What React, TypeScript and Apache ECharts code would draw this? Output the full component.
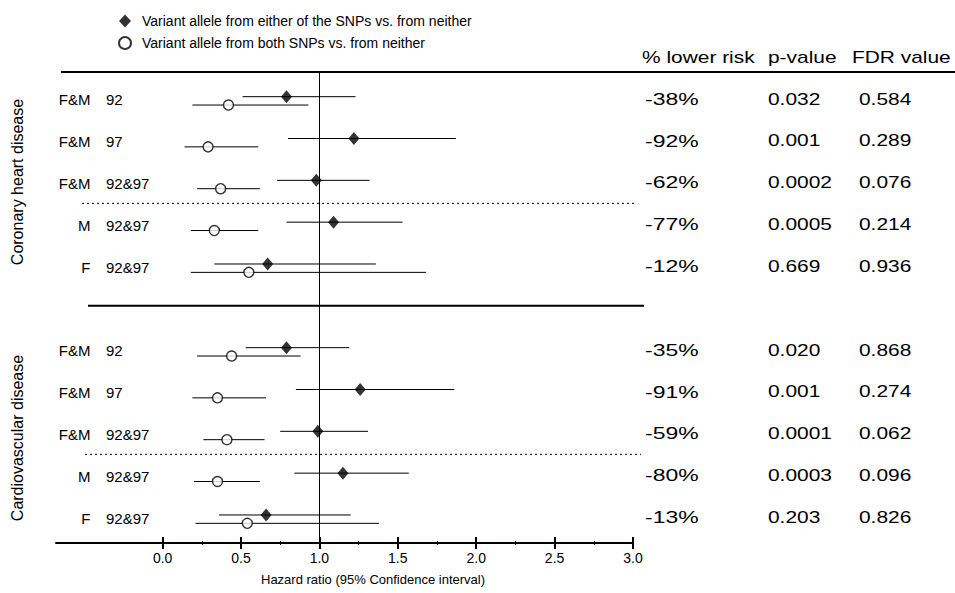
import React, { useEffect, useRef } from "react";
import * as echarts from "echarts";

const FONT = "'Liberation Sans', Arial, Helvetica, sans-serif";

// ---- labels ----
const legendNames = [
  "Variant allele from either of the SNPs vs. from neither",
  "Variant allele from both SNPs vs. from neither",
];
const groupTitles = ["Coronary heart disease", "Cardiovascular disease"];
const sexLabels = ["F&M", "F&M", "F&M", "M", "F"];
const snpLabels = ["92", "97", "92&97", "92&97", "92&97"];
const tableHeaders = ["% lower risk", "p-value", "FDR value"];
const axisTitle = "Hazard ratio (95% Confidence interval)";
const tickValues = [0, 0.5, 1, 1.5, 2, 2.5, 3];
const minorTickValues = [0.25, 0.75, 1.25, 1.75, 2.25, 2.75];

// ---- Coronary heart disease ----
const chdEitherHR = [0.79, 1.22, 0.98, 1.09, 0.67];
const chdEitherLow = [0.51, 0.8, 0.73, 0.79, 0.33];
const chdEitherHigh = [1.23, 1.87, 1.32, 1.53, 1.36];
const chdBothHR = [0.42, 0.29, 0.37, 0.33, 0.55];
const chdBothLow = [0.19, 0.14, 0.22, 0.18, 0.18];
const chdBothHigh = [0.93, 0.61, 0.62, 0.61, 1.68];
const chdLowerRisk = ["-38%", "-92%", "-62%", "-77%", "-12%"];
const chdPValue = ["0.032", "0.001", "0.0002", "0.0005", "0.669"];
const chdFdr = ["0.584", "0.289", "0.076", "0.214", "0.936"];

// ---- Cardiovascular disease ----
const cvdEitherHR = [0.79, 1.26, 0.99, 1.15, 0.66];
const cvdEitherLow = [0.53, 0.85, 0.75, 0.84, 0.36];
const cvdEitherHigh = [1.19, 1.86, 1.31, 1.57, 1.2];
const cvdBothHR = [0.44, 0.35, 0.41, 0.35, 0.54];
const cvdBothLow = [0.22, 0.19, 0.26, 0.2, 0.21];
const cvdBothHigh = [0.88, 0.66, 0.65, 0.62, 1.38];
const cvdLowerRisk = ["-35%", "-91%", "-59%", "-80%", "-13%"];
const cvdPValue = ["0.020", "0.001", "0.0001", "0.0003", "0.203"];
const cvdFdr = ["0.868", "0.274", "0.062", "0.096", "0.826"];

export default function App() {
  const ref = useRef<HTMLDivElement>(null);

  useEffect(() => {
    if (!ref.current) return;
    const chart = echarts.init(ref.current, null, { renderer: "svg" });

    const groups = [
      {
        eitherHR: chdEitherHR, eitherLow: chdEitherLow, eitherHigh: chdEitherHigh,
        bothHR: chdBothHR, bothLow: chdBothLow, bothHigh: chdBothHigh,
        table: [chdLowerRisk, chdPValue, chdFdr],
      },
      {
        eitherHR: cvdEitherHR, eitherLow: cvdEitherLow, eitherHigh: cvdEitherHigh,
        bothHR: cvdBothHR, bothLow: cvdBothLow, bothHigh: cvdBothHigh,
        table: [cvdLowerRisk, cvdPValue, cvdFdr],
      },
    ];

    const ROWS_PER_GROUP = 6;
    const OFF = 0.1;
    const eitherPts: number[][] = [];
    const bothPts: number[][] = [];
    const ciData: number[][] = [];
    const rowData: number[][] = [];
    groups.forEach((grp, g) => {
      sexLabels.forEach((_, i) => {
        const row = g * ROWS_PER_GROUP + i;
        eitherPts.push([grp.eitherHR[i], row - OFF]);
        bothPts.push([grp.bothHR[i], row + OFF]);
        ciData.push([grp.eitherLow[i], grp.eitherHigh[i], row - OFF]);
        ciData.push([grp.bothLow[i], grp.bothHigh[i], row + OFF]);
        rowData.push([0, row, g, i]);
      });
    });

    const colX = [645, 768, 859];
    const colStretch = [1.35, 1.23, 1.23];
    const headerX = [642, 768, 852];
    const STRETCH = 1.23;

    const baseAxis = {
      type: "value" as const,
      min: -0.68,
      max: 3,
      position: "bottom" as const,
      gridIndex: 0,
      splitLine: { show: false },
    };

    const option: any = {
      animation: false,
      backgroundColor: "#fff",
      textStyle: { fontFamily: FONT, color: "#000" },
      grid: { left: 56, right: 322, top: 72, bottom: 50, containLabel: false, outerBoundsMode: "none" },
      legend: {
        orient: "vertical",
        left: 113,
        top: 9,
        itemWidth: 12,
        itemHeight: 13,
        itemGap: 8,
        selectedMode: false,
        textStyle: { fontSize: 14, color: "#000", fontFamily: FONT, padding: [0, 0, 0, 6] },
        data: [
          { name: legendNames[0], icon: "diamond" },
          { name: legendNames[1], icon: "circle" },
        ],
      },
      xAxis: [
        {
          ...baseAxis,
          axisLine: { show: true, onZero: false, lineStyle: { color: "#000", width: 2 } },
          axisTick: { show: true, customValues: tickValues, length: 6, lineStyle: { color: "#000", width: 2 } },
          axisLabel: {
            show: true,
            customValues: tickValues,
            formatter: (v: number) => v.toFixed(1),
            fontSize: 14,
            color: "#000",
            margin: 8,
            fontFamily: FONT,
          },
          name: axisTitle,
          nameLocation: "middle",
          nameGap: 30,
          nameTextStyle: { fontSize: 13, color: "#000", fontFamily: FONT, padding: [0, 0, 0, 57] },
        },
        {
          ...baseAxis,
          axisLine: { show: false, onZero: false },
          axisLabel: { show: false },
          axisTick: { show: true, inside: true, customValues: tickValues, length: 6, lineStyle: { color: "#000", width: 2 } },
        },
        {
          ...baseAxis,
          axisLine: { show: false, onZero: false },
          axisLabel: { show: false },
          axisTick: { show: true, customValues: minorTickValues, length: 2, lineStyle: { color: "#000", width: 1 } },
        },
        {
          ...baseAxis,
          axisLine: { show: false, onZero: false },
          axisLabel: { show: false },
          axisTick: { show: true, inside: true, customValues: minorTickValues, length: 2, lineStyle: { color: "#000", width: 1 } },
        },
      ],
      yAxis: { type: "value", inverse: true, min: -0.69, max: 10.57, show: false },
      graphic: [
        { type: "line", shape: { x1: 61, y1: 72, x2: 955, y2: 72 }, style: { stroke: "#000", lineWidth: 2 } },
        ...tableHeaders.map((t, k) => ({
          type: "text",
          x: headerX[k],
          y: 57,
          scaleX: STRETCH,
          style: { text: t, fontSize: 17, fontFamily: FONT, fill: "#000", textAlign: "left", textVerticalAlign: "middle" },
        })),
        {
          type: "text",
          x: 17,
          y: 182,
          rotation: Math.PI / 2,
          style: { text: groupTitles[0], fontSize: 16, fontFamily: FONT, fill: "#000", textAlign: "center", textVerticalAlign: "middle" },
        },
        {
          type: "text",
          x: 17,
          y: 438,
          rotation: Math.PI / 2,
          style: { text: groupTitles[1], fontSize: 16, fontFamily: FONT, fill: "#000", textAlign: "center", textVerticalAlign: "middle" },
        },
      ],
      series: [
        {
          name: "rows",
          type: "custom",
          clip: false,
          silent: true,
          data: rowData,
          encode: { x: 0, y: 1 },
          renderItem: (params: any, api: any) => {
            const row = api.value(1);
            const g = api.value(2);
            const i = api.value(3);
            const y = api.coord([0, row])[1];
            const children: any[] = [
              {
                type: "text",
                x: 90.5,
                y: y - 1,
                style: { text: sexLabels[i], fontSize: 15, fontFamily: FONT, fill: "#000", textAlign: "right", textVerticalAlign: "middle" },
              },
              {
                type: "text",
                x: 106,
                y: y - 1,
                style: { text: snpLabels[i], fontSize: 15, fontFamily: FONT, fill: "#000", textAlign: "left", textVerticalAlign: "middle" },
              },
            ];
            groups[g].table.forEach((col, k) => {
              children.push({
                type: "text",
                x: colX[k],
                y: y - 2,
                scaleX: colStretch[k],
                style: { text: col[i], fontSize: 17, fontFamily: FONT, fill: "#000", textAlign: "left", textVerticalAlign: "middle" },
              });
            });
            if (i === 2) {
              const yd = api.coord([0, row + 0.45])[1];
              children.push({
                type: "line",
                shape: { x1: g === 0 ? 82 : 85, y1: yd, x2: g === 0 ? 637 : 641, y2: yd },
                style: { stroke: "#000", lineWidth: 1, lineDash: [2, 3] },
              });
            }
            if (g === 0 && i === 4) {
              const ys = api.coord([0, row + 0.9])[1];
              children.push({
                type: "line",
                shape: { x1: 88, y1: ys, x2: 644, y2: ys },
                style: { stroke: "#000", lineWidth: 2 },
              });
            }
            return { type: "group", children };
          },
        },
        {
          name: "ci",
          type: "custom",
          silent: true,
          data: ciData,
          encode: { x: [0, 1], y: 2 },
          renderItem: (params: any, api: any) => {
            const p1 = api.coord([api.value(0), api.value(2)]);
            const p2 = api.coord([api.value(1), api.value(2)]);
            return {
              type: "line",
              shape: { x1: p1[0], y1: p1[1], x2: p2[0], y2: p2[1] },
              style: { stroke: "#000", lineWidth: 1 },
            };
          },
          markLine: {
            silent: true,
            symbol: ["none", "none"],
            label: { show: false },
            lineStyle: { color: "#000", width: 1, type: "solid" },
            data: [{ xAxis: 1 }],
          },
        },
        {
          name: legendNames[0],
          type: "scatter",
          symbol: "diamond",
          symbolSize: [11, 13],
          itemStyle: { color: "#000" },
          data: eitherPts,
          z: 5,
        },
        {
          name: legendNames[1],
          type: "scatter",
          symbol: "circle",
          symbolSize: 10,
          itemStyle: { color: "#fff", borderColor: "#000", borderWidth: 1.4 },
          data: bothPts,
          z: 5,
        },
      ],
    };

    chart.setOption(option);
    return () => chart.dispose();
  }, []);

  return (
    <div
      ref={ref}
      style={{ position: "fixed", left: 0, top: 0, width: 955, height: 593, background: "#fff" }}
    />
  );
}
